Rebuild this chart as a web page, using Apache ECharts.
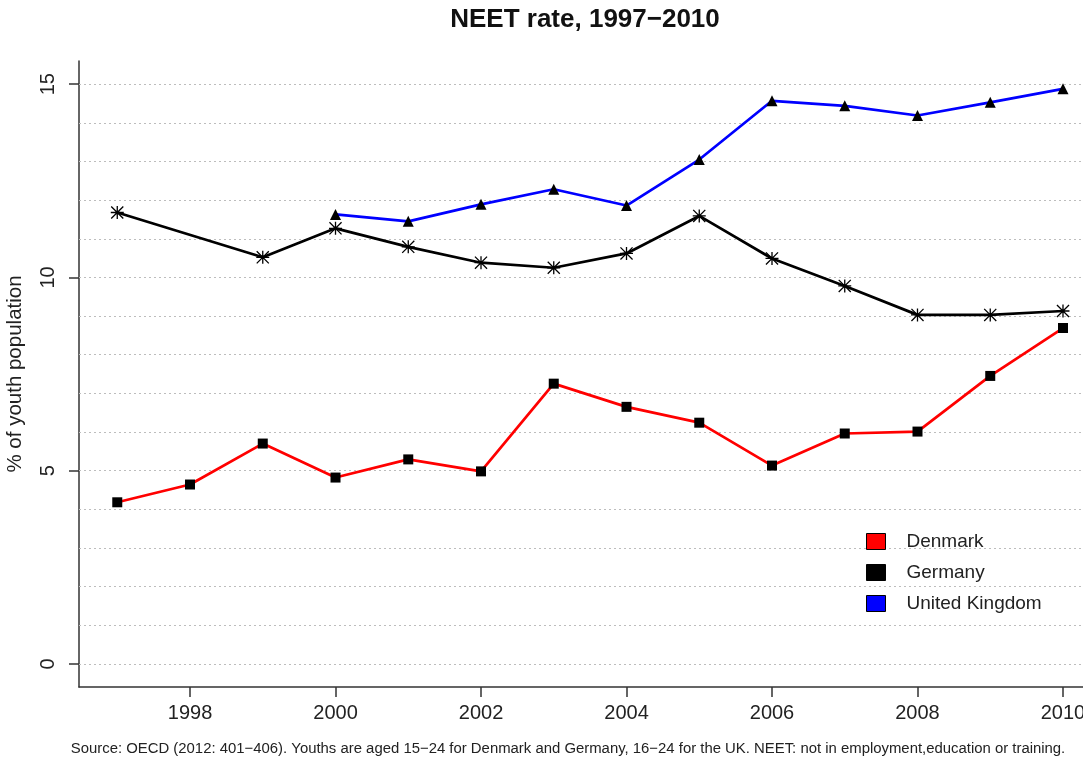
<!DOCTYPE html>
<html>
<head>
<meta charset="utf-8">
<script src="https://cdn.jsdelivr.net/npm/echarts@6/dist/echarts.min.js"></script>
<style>
html,body{margin:0;padding:0;background:#fff;}
#chart{width:1083px;height:758px;}
</style>
</head>
<body>
<div id="chart"></div>
<script>
// ---- Data ----
const denmarkYears = [1997,1998,1999,2000,2001,2002,2003,2004,2005,2006,2007,2008,2009,2010];
const denmarkValues = [4.18,4.64,5.70,4.82,5.29,4.98,7.25,6.65,6.24,5.13,5.96,6.01,7.45,8.69];
const germanyYears = [1997,1999,2000,2001,2002,2003,2004,2005,2006,2007,2008,2009,2010];
const germanyValues = [11.68,10.52,11.27,10.79,10.38,10.25,10.62,11.59,10.49,9.78,9.03,9.03,9.13];
const ukYears = [2000,2001,2002,2003,2004,2005,2006,2007,2008,2009,2010];
const ukValues = [11.63,11.45,11.89,12.28,11.86,13.05,14.57,14.44,14.19,14.53,14.88];
const seriesNames = ['Denmark','Germany','United Kingdom'];
const xTickLabels = [1998,2000,2002,2004,2006,2008,2010];
const yTickLabels = [0,5,10,15];
const yGridValues = [0,1,2,3,4,5,6,7,8,9,10,11,12,13,14,15];
const titleText = 'NEET rate, 1997\u22122010';
const yAxisTitle = '% of youth population';
const footerText = 'Source: OECD (2012: 401\u2212406). Youths are aged 15\u221224 for Denmark and Germany, 16\u221224 for the UK. NEET: not in employment,education or training.';

const pairs = (xs, ys) => xs.map((x, i) => [x, ys[i]]);
const FONT = '"Liberation Sans", Arial, Helvetica, sans-serif';
const asterisk = 'path://M45 0H55V100H45Z M0 45H100V55H0Z M0 7L7 0L100 93L93 100Z M93 0L100 7L7 100L0 93Z';

const chart = echarts.init(document.getElementById('chart'), null, {renderer: 'canvas'});
chart.setOption({
  animation: false,
  backgroundColor: '#ffffff',
  textStyle: {fontFamily: FONT},
  grid: {left: 79, top: 61, bottom: 71, right: 0, containLabel: false, outerBoundsMode: 'none'},
  xAxis: {
    type: 'value', min: 1996.474, max: 2010.275,
    axisLine: {show: true, onZero: false, lineStyle: {color: '#333', width: 1.5}},
    axisTick: {show: true, length: 10, customValues: xTickLabels, lineStyle: {color: '#333', width: 1.5}},
    axisLabel: {show: true, customValues: xTickLabels, margin: 16, fontSize: 20, color: '#222', fontFamily: FONT,
      hideOverlap: false, formatter: v => String(v)},
    splitLine: {show: false}
  },
  yAxis: {
    type: 'value', min: -0.6, max: 15.6,
    name: yAxisTitle, nameLocation: 'middle', nameGap: 53,
    nameTextStyle: {fontSize: 20.5, color: '#222', fontFamily: FONT},
    axisLine: {show: true, onZero: false, lineStyle: {color: '#333', width: 1.5}},
    axisTick: {show: true, length: 10, customValues: yTickLabels, lineStyle: {color: '#333', width: 1.5}},
    axisLabel: {show: true, customValues: yTickLabels, rotate: 90, margin: 21, fontSize: 20, color: '#222', fontFamily: FONT},
    splitLine: {show: false}
  },
  legend: {
    orient: 'vertical', left: 861, top: 527,
    itemWidth: 19, itemHeight: 16, itemGap: 12, icon: 'rect',
    selectedMode: false,
    textStyle: {fontSize: 19, color: '#222', fontFamily: FONT, padding: [0, 0, 0, 16]},
    data: [
      {name: seriesNames[0], itemStyle: {color: '#ff0000', borderColor: '#000', borderWidth: 1}},
      {name: seriesNames[1], itemStyle: {color: '#000000', borderColor: '#000', borderWidth: 1}},
      {name: seriesNames[2], itemStyle: {color: '#0000ff', borderColor: '#000', borderWidth: 1}}
    ]
  },
  graphic: [
    {type: 'text', x: 585, y: 20, style: {text: titleText, font: 'bold 26px ' + FONT, fill: '#111', textAlign: 'center', textVerticalAlign: 'middle'}},
    {type: 'text', x: 568, y: 749, style: {text: footerText, font: '14.9px ' + FONT, fill: '#222', textAlign: 'center', textVerticalAlign: 'middle'}}
  ],
  series: [
    {
      name: 'grid', type: 'line', data: [], z: 1, silent: true,
      markLine: {
        silent: true, z: 1, symbol: ['none', 'none'], label: {show: false},
        lineStyle: {type: [2, 3], color: '#bdbdbd', width: 1},
        emphasis: {disabled: true},
        data: yGridValues.map(v => ({yAxis: v}))
      }
    },
    {
      name: seriesNames[0], type: 'line', z: 3, data: pairs(denmarkYears, denmarkValues),
      symbol: 'rect', symbolSize: 10, showAllSymbol: true,
      lineStyle: {color: '#ff0000', width: 2.7},
      itemStyle: {color: '#000000', borderWidth: 0},
      emphasis: {disabled: true}
    },
    {
      name: seriesNames[1], type: 'line', z: 3, data: pairs(germanyYears, germanyValues),
      symbol: asterisk, symbolSize: 13, showAllSymbol: true,
      lineStyle: {color: '#000000', width: 2.7},
      itemStyle: {color: '#000000', borderWidth: 0},
      emphasis: {disabled: true}
    },
    {
      name: seriesNames[2], type: 'line', z: 3, data: pairs(ukYears, ukValues),
      symbol: 'triangle', symbolSize: 11, showAllSymbol: true,
      lineStyle: {color: '#0000ff', width: 2.7},
      itemStyle: {color: '#000000', borderWidth: 0},
      emphasis: {disabled: true}
    }
  ]
});
</script>
</body>
</html>
